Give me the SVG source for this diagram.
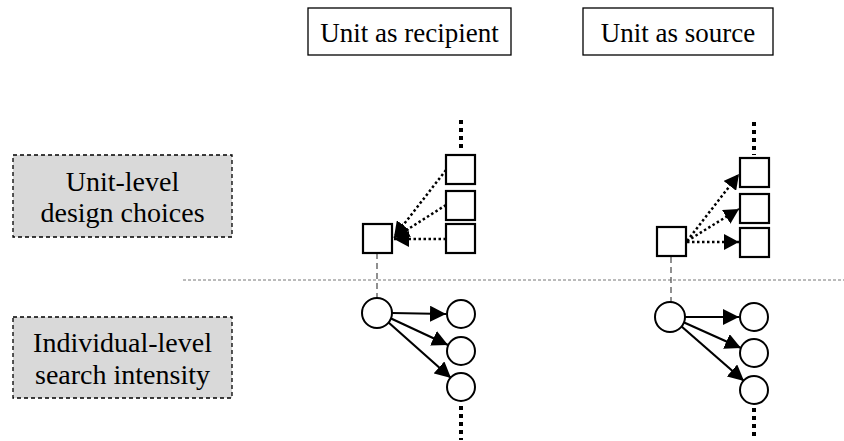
<svg xmlns="http://www.w3.org/2000/svg" width="844" height="441" viewBox="0 0 844 441">
<defs>
<marker id="ah" viewBox="0 0 10 10" refX="10" refY="5" markerWidth="16" markerHeight="16" markerUnits="userSpaceOnUse" orient="auto" preserveAspectRatio="none"><path d="M0,0 L10,5 L0,10 z" fill="#000"/></marker>
<marker id="ahd" viewBox="0 0 10 10" refX="10" refY="5" markerWidth="15" markerHeight="16" markerUnits="userSpaceOnUse" orient="auto" preserveAspectRatio="none"><path d="M0,0 L10,5 L0,10 z" fill="#000"/></marker>
</defs>
<style>
text{font-family:"Liberation Serif","Times New Roman",serif;fill:#000;text-anchor:middle}
.hdr{fill:#fff;stroke:#000;stroke-width:1.3}
.lvl{fill:#d9d9d9;stroke:#000;stroke-width:1.3;stroke-dasharray:4 3}
.sq{fill:#fff;stroke:#000;stroke-width:2.2}
.ci{fill:#fff;stroke:#000;stroke-width:2}
.dot{stroke:#000;stroke-width:2.5;stroke-dasharray:2.5 2.5;fill:none}
.solid{stroke:#000;stroke-width:2.2;fill:none}
.ell{stroke:#000;stroke-width:4;stroke-dasharray:4 4;fill:none}
.tie{stroke:#555;stroke-width:1.3;stroke-dasharray:6 4;fill:none}
.sep{stroke:#777;stroke-width:1;stroke-dasharray:3 2;fill:none}
</style>
<g id="hdr-recipient"><rect class="hdr" x="308" y="8" width="203" height="47"/><text x="409.5" y="42" font-size="27">Unit as recipient</text></g>
<g id="hdr-source"><rect class="hdr" x="583" y="8" width="190" height="47"/><text x="678" y="42" font-size="27">Unit as source</text></g>
<g id="lvl-unit"><rect class="lvl" x="13" y="155" width="219" height="82"/><text x="122.5" y="191" font-size="28">Unit-level</text><text x="122.5" y="222" font-size="28">design choices</text></g>
<g id="lvl-individual"><rect class="lvl" x="13" y="317" width="219" height="81"/><text x="122.5" y="352" font-size="28">Individual-level</text><text x="122.5" y="384" font-size="28">search intensity</text></g>
<g id="connectors">
<line class="sep" x1="183" y1="280" x2="844" y2="280"/>
<line class="tie" x1="377" y1="253" x2="377" y2="298"/>
<line class="tie" x1="671" y1="257" x2="671" y2="302"/>
<line class="ell" x1="461" y1="120" x2="461" y2="152"/>
<line class="ell" x1="754" y1="122" x2="754" y2="155"/>
<line class="ell" x1="461" y1="406" x2="461" y2="440"/>
<line class="ell" x1="754" y1="408" x2="754" y2="440"/>
<line class="dot" x1="446" y1="170" x2="394" y2="237" marker-end="url(#ahd)"/>
<line class="dot" x1="446" y1="205" x2="394" y2="238" marker-end="url(#ahd)"/>
<line class="dot" x1="446" y1="239" x2="394" y2="239" marker-end="url(#ahd)"/>
<line class="dot" x1="687" y1="241" x2="739" y2="174" marker-end="url(#ahd)"/>
<line class="dot" x1="687" y1="241" x2="739" y2="209" marker-end="url(#ahd)"/>
<line class="dot" x1="687" y1="242" x2="739" y2="242" marker-end="url(#ahd)"/>
<line class="solid" x1="392" y1="313" x2="446" y2="314" marker-end="url(#ah)"/>
<line class="solid" x1="390" y1="318" x2="448" y2="345" marker-end="url(#ah)"/>
<line class="solid" x1="388" y1="322" x2="451" y2="378" marker-end="url(#ah)"/>
<line class="solid" x1="685" y1="317" x2="739" y2="317" marker-end="url(#ah)"/>
<line class="solid" x1="683" y1="322" x2="741" y2="348" marker-end="url(#ah)"/>
<line class="solid" x1="681" y1="326" x2="744" y2="381" marker-end="url(#ah)"/>
</g>
<g id="rec-unit"><rect class="sq" x="363" y="224" width="29" height="29"/></g>
<g id="rec-sq1"><rect class="sq" x="446" y="155" width="29" height="29"/></g>
<g id="rec-sq2"><rect class="sq" x="446" y="191" width="29" height="29"/></g>
<g id="rec-sq3"><rect class="sq" x="446" y="224" width="29" height="29"/></g>
<g id="src-unit"><rect class="sq" x="657" y="227" width="29" height="29"/></g>
<g id="src-sq1"><rect class="sq" x="740" y="158" width="29" height="29"/></g>
<g id="src-sq2"><rect class="sq" x="740" y="194" width="29" height="29"/></g>
<g id="src-sq3"><rect class="sq" x="740" y="228" width="29" height="29"/></g>
<g id="rec-ind"><circle class="ci" cx="377" cy="313" r="15"/></g>
<g id="rec-c1"><circle class="ci" cx="461" cy="314" r="14"/></g>
<g id="rec-c2"><circle class="ci" cx="461" cy="351" r="14"/></g>
<g id="rec-c3"><circle class="ci" cx="461" cy="387" r="14"/></g>
<g id="src-ind"><circle class="ci" cx="670" cy="317" r="15"/></g>
<g id="src-c1"><circle class="ci" cx="754" cy="317" r="14"/></g>
<g id="src-c2"><circle class="ci" cx="754" cy="353" r="14"/></g>
<g id="src-c3"><circle class="ci" cx="754" cy="390" r="14"/></g>
</svg>
